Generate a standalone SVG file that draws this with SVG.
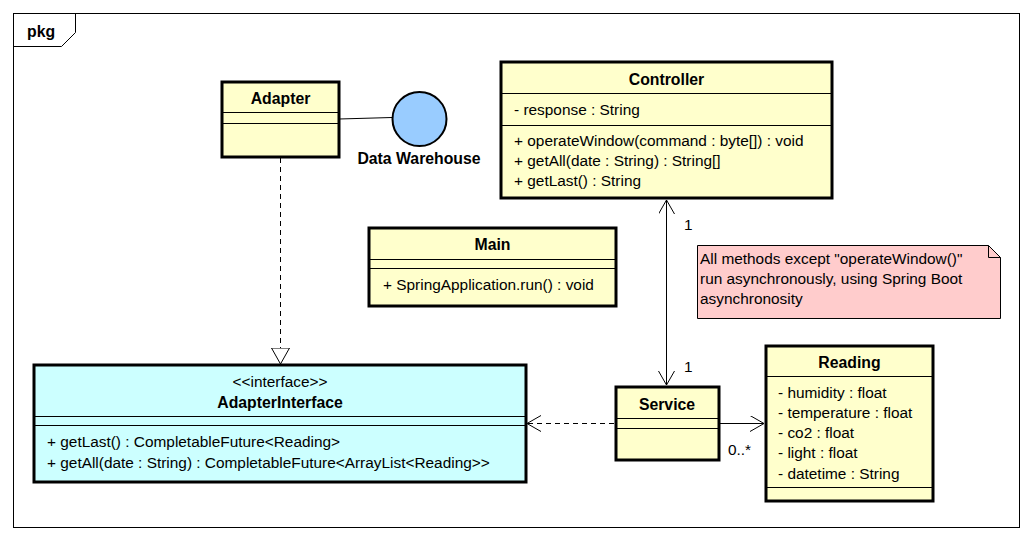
<svg xmlns="http://www.w3.org/2000/svg" width="1033" height="541" viewBox="0 0 1033 541">
<defs>
<style>
text{font-family:"Liberation Sans",Arial,sans-serif;font-size:15.4px;fill:#000}
.b{font-weight:bold;font-size:15.8px}
.c{text-anchor:middle}
.cls{fill:#FFFFCC;stroke:#000;stroke-width:3}
.ifc{fill:#CCFFFF;stroke:#000;stroke-width:3}
.sep{stroke:#000;stroke-width:1}
.ln{stroke:#000;stroke-width:1;fill:none}
.dash{stroke-dasharray:5,4}
</style>
<marker id="open" markerWidth="20" markerHeight="20" refX="14" refY="8" orient="auto-start-reverse" markerUnits="userSpaceOnUse">
<path d="M0,0 L14,8 L0,16" fill="none" stroke="#000" stroke-width="1"/>
</marker>
<marker id="tri" markerWidth="22" markerHeight="22" refX="16" refY="9" orient="auto" markerUnits="userSpaceOnUse">
<path d="M0,0 L16,9 L0,18 Z" fill="#fff" stroke="#000" stroke-width="1"/>
</marker>
</defs>
<rect width="1033" height="541" fill="#fff"/>
<g id="frame">
<rect x="13.5" y="13.5" width="1006" height="514" fill="none" stroke="#000" stroke-width="1"/>
<path d="M13.5,46.5 H61.5 L75.5,32.5 V13.5" fill="none" stroke="#000" stroke-width="1"/>
<text x="27" y="37" class="b">pkg</text>
</g>
<g id="connectors">
<line x1="280.5" y1="158" x2="280.5" y2="364" class="ln dash" marker-end="url(#tri)"/>
<line x1="339" y1="119" x2="392" y2="117.5" class="ln"/>
<line x1="666.5" y1="200" x2="666.5" y2="385" class="ln" marker-start="url(#open)" marker-end="url(#open)"/>
<line x1="614" y1="423.5" x2="527" y2="423.5" class="ln dash" marker-end="url(#open)"/>
<line x1="720" y1="423.5" x2="764" y2="423.5" class="ln" marker-end="url(#open)"/>
<text x="684" y="230">1</text>
<text x="684" y="372">1</text>
<text x="728" y="455">0..*</text>
</g>
<g id="Adapter">
<rect x="222" y="82" width="117" height="75" class="cls"/>
<line x1="222" y1="112.5" x2="339" y2="112.5" class="sep"/>
<line x1="222" y1="123.5" x2="339" y2="123.5" class="sep"/>
<text x="280.5" y="104" class="b c">Adapter</text>
</g>
<g id="DataWarehouse">
<circle cx="419.5" cy="119" r="27" fill="#99CCFF" stroke="#000" stroke-width="2"/>
<text x="419" y="164" class="b c">Data Warehouse</text>
</g>
<g id="Controller">
<rect x="501" y="62" width="331" height="136" class="cls"/>
<line x1="501" y1="93.5" x2="832" y2="93.5" class="sep"/>
<line x1="501" y1="125.5" x2="832" y2="125.5" class="sep"/>
<text x="666.5" y="85" class="b c">Controller</text>
<text x="514" y="115">- response : String</text>
<text x="514" y="146">+ operateWindow(command : byte[]) : void</text>
<text x="514" y="166">+ getAll(date : String) : String[]</text>
<text x="514" y="186">+ getLast() : String</text>
</g>
<g id="Main">
<rect x="369" y="228" width="247" height="78" class="cls"/>
<line x1="369" y1="259.5" x2="616" y2="259.5" class="sep"/>
<line x1="369" y1="268.5" x2="616" y2="268.5" class="sep"/>
<text x="492.5" y="250" class="b c">Main</text>
<text x="383" y="290">+ SpringApplication.run() : void</text>
</g>
<g id="Note">
<path d="M697.5,245.5 H988.5 L1000.5,257.5 V318.5 H697.5 Z" fill="#FFCCCC" stroke="#000" stroke-width="1"/>
<path d="M988.5,245.5 V257.5 H1000.5" fill="none" stroke="#000" stroke-width="1"/>
<text x="700" y="264">All methods except "operateWindow()"</text>
<text x="700" y="284">run asynchronously, using Spring Boot</text>
<text x="700" y="304">asynchronosity</text>
</g>
<g id="AdapterInterface">
<rect x="34" y="365" width="492" height="117" class="ifc"/>
<line x1="34" y1="416.5" x2="526" y2="416.5" class="sep"/>
<line x1="34" y1="425.5" x2="526" y2="425.5" class="sep"/>
<text x="280" y="387" class="c">&lt;&lt;interface&gt;&gt;</text>
<text x="280" y="408" class="b c">AdapterInterface</text>
<text x="47" y="447">+ getLast() : CompletableFuture&lt;Reading&gt;</text>
<text x="47" y="468">+ getAll(date : String) : CompletableFuture&lt;ArrayList&lt;Reading&gt;&gt;</text>
</g>
<g id="Service">
<rect x="616" y="387" width="103" height="73" class="cls"/>
<line x1="616" y1="418.5" x2="719" y2="418.5" class="sep"/>
<line x1="616" y1="428.5" x2="719" y2="428.5" class="sep"/>
<text x="667" y="410" class="b c">Service</text>
</g>
<g id="Reading">
<rect x="766" y="346" width="167" height="155" class="cls"/>
<line x1="766" y1="376.5" x2="933" y2="376.5" class="sep"/>
<line x1="766" y1="487.5" x2="933" y2="487.5" class="sep"/>
<text x="849.5" y="368" class="b c">Reading</text>
<text x="778" y="398">- humidity : float</text>
<text x="778" y="418">- temperature : float</text>
<text x="778" y="438">- co2 : float</text>
<text x="778" y="458">- light : float</text>
<text x="778" y="479">- datetime : String</text>
</g>
</svg>
